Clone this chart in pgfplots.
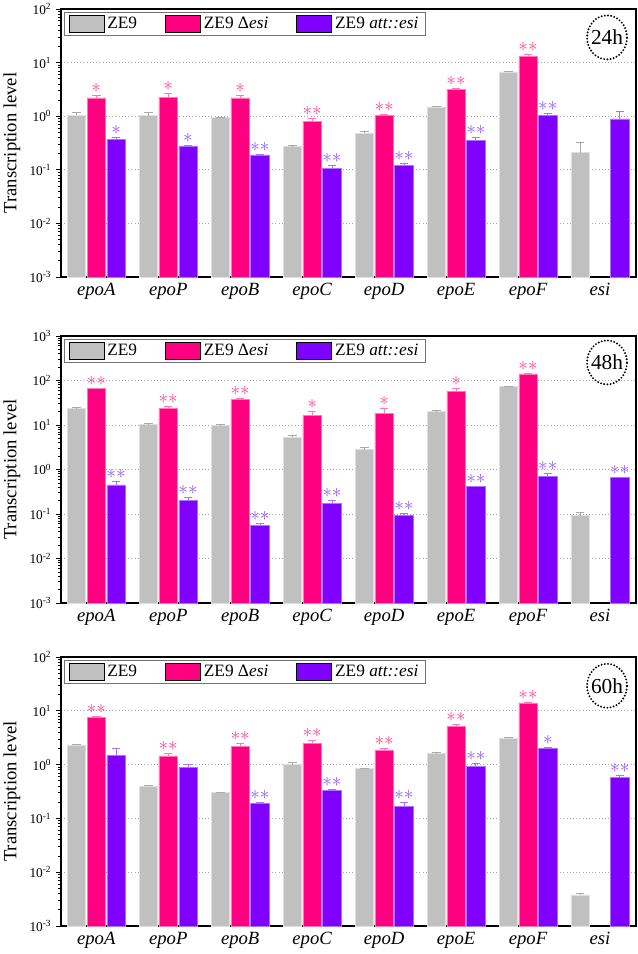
\documentclass[border=0pt]{standalone}
\usepackage{fontspec}
\setmainfont{Liberation Serif}
\usepackage{pgfplots}
\usepackage{pgfplotstable}
\pgfplotsset{compat=1.18}

\definecolor{cgray}{RGB}{192,192,192}
\definecolor{cgrayE}{RGB}{170,170,170}
\definecolor{cpink}{RGB}{255,0,128}
\definecolor{cpinkE}{RGB}{255,120,185}
\definecolor{cpinkS}{RGB}{255,70,150}
\definecolor{cpurp}{RGB}{128,0,255}
\definecolor{cpurpE}{RGB}{170,115,255}
\definecolor{cpurpS}{RGB}{145,90,255}

% columns: x, gray value/err, pink value/err/stars, purple value/err/stars
\pgfplotstableread{
x g ge p pe ps u ue us
0 1.04 0.13 2.20 0.26 1 0.37 0.04 1
1 1.03 0.14 2.26 0.38 1 0.28 0.01 1
2 0.95 0.02 2.20 0.25 1 0.19 0.005 2
3 0.27 0.01 0.81 0.09 2 0.107 0.013 2
4 0.48 0.03 1.03 0.03 2 0.12 0.01 2
5 1.49 0.06 3.20 0.15 2 0.35 0.06 2
6 6.70 0.20 13.1 0.90 2 1.04 0.11 2
7 0.21 0.12 nan nan 0 0.89 0.36 0
}\tabA
\pgfplotstableread{
x g ge p pe ps u ue us
0 23.2 2.3 67 1 2 0.45 0.09 2
1 10.5 0.2 24 2 2 0.20 0.04 2
2 10.0 0.1 37 3 2 0.056 0.004 2
3 5.4 0.5 16.2 3.8 1 0.17 0.03 2
4 2.8 0.3 18.6 5.4 1 0.092 0.013 2
5 19.9 1.1 57 8 1 0.41 0.01 2
6 73.5 1.5 141 5 2 0.71 0.10 2
7 0.092 0.018 nan nan 0 0.66 0.01 2
}\tabB
\pgfplotstableread{
x g ge p pe ps u ue us
0 2.32 0.06 7.6 0.25 2 1.47 0.49 0
1 0.40 0.01 1.45 0.15 2 0.88 0.11 0
2 0.305 0.005 2.16 0.34 2 0.19 0.01 2
3 1.00 0.12 2.46 0.34 2 0.33 0.01 2
4 0.84 0.01 1.87 0.09 2 0.17 0.03 2
5 1.63 0.03 5.1 0.6 2 0.92 0.14 2
6 3.14 0.11 14.1 0.3 2 1.99 0.06 1
7 0.0038 0.0002 nan nan 0 0.57 0.06 2
}\tabC

\newcommand\stars[1]{\ifcase#1\relax\or\ensuremath{\ast}\or\ensuremath{\ast}\ensuremath{\ast}\fi}

\pgfplotsset{
  rkpanel/.style={
    scale only axis, width=431.25pt,
    log origin y=infty,
    xmin=-0.49, xmax=7.5,
    xtick={0,...,7},
    xticklabels={epoA,epoP,epoB,epoC,epoD,epoE,epoF,esi},
    xticklabel style={font=\fontsize{14}{16}\selectfont\itshape, text height=0.68em, text depth=0.22em},
    major x tick style={draw=none},
    ytick pos=left, tick align=outside,
    major tick length=3.75pt, minor tick length=2.25pt,
    y tick style={black, line width=0.6pt},
    yticklabel style={font=\fontsize{10}{12}\selectfont},
    axis line style={line width=1.1pt},
    ymajorgrids, major grid style={dotted, black!35, line width=0.6pt},
    ylabel={Transcription level},
    ylabel style={font=\fontsize{14}{16}\selectfont, at={(axis description cs:-0.0852,0.5)}, anchor=center},
    legend style={at={(0.0052,0.989)}, anchor=north west, draw=black!55, line width=0.8pt,
      fill=white, font=\fontsize{13}{15}\selectfont, inner xsep=3pt, inner ysep=1.5pt},
    legend columns=3, legend cell align=left,
  },
  rkleg/.style={legend image code/.code={\fill[##1] (0pt,-6.375pt) rectangle (26.25pt,6.375pt);}},
  barsty/.style={forget plot, ybar, bar width=0.257, bar shift=0, line width=0.4pt},
  errsty/.style={forget plot, draw=none, mark=none,
    error bars/y dir=plus, error bars/y explicit,
    error bars/error bar style={draw=#1, line width=0.6pt},
    error bars/error mark options={rotate=90, mark size=3.2pt, draw=#1, line width=0.6pt}},
  starplot/.style={forget plot, draw=none, mark=none, point meta=explicit symbolic,
    nodes near coords={\stars{\pgfplotspointmeta}},
    nodes near coords style={anchor=base, yshift=2.2pt, inner sep=0pt, font=\fontsize{14}{14}\selectfont, text=#1}},
}

\begin{document}
\begin{tikzpicture}
\useasboundingbox (0,0) rectangle (478.5pt,-715.5pt);

\begin{axis}[ymode=log, ymin=1e-3, ymax=100, rkpanel, rkleg, at={(45.75pt,-6.75pt)}, anchor=north west, height=201pt,
  legend style={/tikz/every even column/.append style={column sep=19pt}},
  ytick={1e-3,1e-2,1e-1,1,1e1,1e2},
  yticklabels={10\textsuperscript{-3},10\textsuperscript{-2},10\textsuperscript{-1},10\textsuperscript{0},10\textsuperscript{1},10\textsuperscript{2}}]
  \addlegendimage{fill=cgray}\addlegendentry{ZE9}
  \addlegendimage{fill=cpink}\addlegendentry{ZE9 Δ\textit{esi}}
  \addlegendimage{fill=cpurp}\addlegendentry{ZE9 \textit{att::esi}}
  \addplot[barsty, fill=cgray, draw=cgray!50!white] table[x expr=\thisrow{x}-0.275, y=g] {\tabA};
  \addplot[barsty, fill=cpink, draw=cpinkE] table[x=x, y=p] {\tabA};
  \addplot[barsty, fill=cpurp, draw=cpurpE] table[x expr=\thisrow{x}+0.275, y=u] {\tabA};
  \addplot[errsty=cgrayE] table[x expr=\thisrow{x}-0.275, y=g, y error=ge] {\tabA};
  \addplot[errsty=cpinkE] table[x=x, y=p, y error=pe] {\tabA};
  \addplot[errsty=cpurpE] table[x expr=\thisrow{x}+0.275, y=u, y error=ue] {\tabA};
  \addplot[starplot=cpinkS] table[x=x, y expr=\thisrow{p}+\thisrow{pe}, meta=ps] {\tabA};
  \addplot[starplot=cpurpS] table[x expr=\thisrow{x}+0.275, y expr=\thisrow{u}+\thisrow{ue}, meta=us] {\tabA};
  \draw[line width=1.6pt, dash pattern=on 0pt off 2.4pt, line cap=round] (rel axis cs:0.9496,0.894) ellipse [x radius=15pt, y radius=16.5pt];
  \node[font=\fontsize{16}{16}\selectfont] at (rel axis cs:0.9496,0.894) {24h};
\end{axis}

\begin{axis}[ymode=log, ymin=1e-3, ymax=1000, rkpanel, rkleg, at={(45.75pt,-252pt)}, anchor=north west, height=200.25pt,
  legend style={/tikz/every even column/.append style={column sep=19pt}},
  ytick={1e-3,1e-2,1e-1,1,1e1,1e2,1e3},
  yticklabels={10\textsuperscript{-3},10\textsuperscript{-2},10\textsuperscript{-1},10\textsuperscript{0},10\textsuperscript{1},10\textsuperscript{2},10\textsuperscript{3}}]
  \addlegendimage{fill=cgray}\addlegendentry{ZE9}
  \addlegendimage{fill=cpink}\addlegendentry{ZE9 Δ\textit{esi}}
  \addlegendimage{fill=cpurp}\addlegendentry{ZE9 \textit{att::esi}}
  \addplot[barsty, fill=cgray, draw=cgray!50!white] table[x expr=\thisrow{x}-0.275, y=g] {\tabB};
  \addplot[barsty, fill=cpink, draw=cpinkE] table[x=x, y=p] {\tabB};
  \addplot[barsty, fill=cpurp, draw=cpurpE] table[x expr=\thisrow{x}+0.275, y=u] {\tabB};
  \addplot[errsty=cgrayE] table[x expr=\thisrow{x}-0.275, y=g, y error=ge] {\tabB};
  \addplot[errsty=cpinkE] table[x=x, y=p, y error=pe] {\tabB};
  \addplot[errsty=cpurpE] table[x expr=\thisrow{x}+0.275, y=u, y error=ue] {\tabB};
  \addplot[starplot=cpinkS] table[x=x, y expr=\thisrow{p}+\thisrow{pe}, meta=ps] {\tabB};
  \addplot[starplot=cpurpS] table[x expr=\thisrow{x}+0.275, y expr=\thisrow{u}+\thisrow{ue}, meta=us] {\tabB};
  \draw[line width=1.6pt, dash pattern=on 0pt off 2.4pt, line cap=round] (rel axis cs:0.9496,0.901) ellipse [x radius=15pt, y radius=16.5pt];
  \node[font=\fontsize{16}{16}\selectfont] at (rel axis cs:0.9496,0.901) {48h};
\end{axis}

\begin{axis}[ymode=log, ymin=1e-3, ymax=100, rkpanel, rkleg, at={(45.75pt,-492.75pt)}, anchor=north west, height=201.75pt,
  legend style={/tikz/every even column/.append style={column sep=19pt}},
  ytick={1e-3,1e-2,1e-1,1,1e1,1e2},
  yticklabels={10\textsuperscript{-3},10\textsuperscript{-2},10\textsuperscript{-1},10\textsuperscript{0},10\textsuperscript{1},10\textsuperscript{2}}]
  \addlegendimage{fill=cgray}\addlegendentry{ZE9}
  \addlegendimage{fill=cpink}\addlegendentry{ZE9 Δ\textit{esi}}
  \addlegendimage{fill=cpurp}\addlegendentry{ZE9 \textit{att::esi}}
  \addplot[barsty, fill=cgray, draw=cgray!50!white] table[x expr=\thisrow{x}-0.275, y=g] {\tabC};
  \addplot[barsty, fill=cpink, draw=cpinkE] table[x=x, y=p] {\tabC};
  \addplot[barsty, fill=cpurp, draw=cpurpE] table[x expr=\thisrow{x}+0.275, y=u] {\tabC};
  \addplot[errsty=cgrayE] table[x expr=\thisrow{x}-0.275, y=g, y error=ge] {\tabC};
  \addplot[errsty=cpinkE] table[x=x, y=p, y error=pe] {\tabC};
  \addplot[errsty=cpurpE] table[x expr=\thisrow{x}+0.275, y=u, y error=ue] {\tabC};
  \addplot[starplot=cpinkS] table[x=x, y expr=\thisrow{p}+\thisrow{pe}, meta=ps] {\tabC};
  \addplot[starplot=cpurpS] table[x expr=\thisrow{x}+0.275, y expr=\thisrow{u}+\thisrow{ue}, meta=us] {\tabC};
  \draw[line width=1.6pt, dash pattern=on 0pt off 2.4pt, line cap=round] (rel axis cs:0.9496,0.893) ellipse [x radius=15pt, y radius=16.5pt];
  \node[font=\fontsize{16}{16}\selectfont] at (rel axis cs:0.9496,0.893) {60h};
\end{axis}
\end{tikzpicture}
\end{document}
